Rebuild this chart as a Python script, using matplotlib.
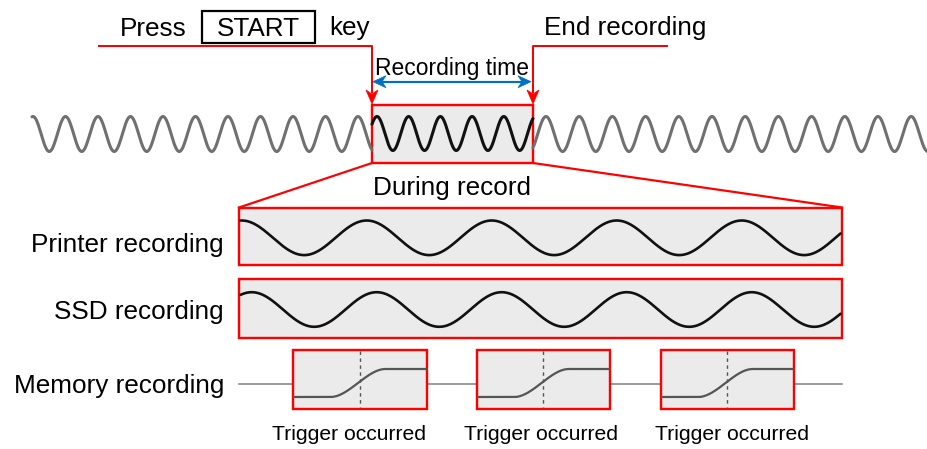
import numpy as np
import matplotlib
matplotlib.use("Agg")
import matplotlib.pyplot as plt
from matplotlib import font_manager
from matplotlib.patches import Rectangle, Polygon

# ---------------- data ----------------
top_labels = ["Press", "START", "key", "End recording"]
span_label = "Recording time"
zoom_label = "During record"
row_labels = ["Printer recording", "SSD recording", "Memory recording"]
trigger_labels = ["Trigger occurred", "Trigger occurred", "Trigger occurred"]
# illustrative waveforms: (first crest position, crest spacing) in px
top_wave_left = (33.0, 32.5)
top_wave_rec = (377.0, 31.7)
top_wave_right = (546.0, 33.2)
printer_wave = (241.7, 125.0)
ssd_wave = (251.7, 125.0)
trigger_step = (0.28, 0.69)   # rise start / end as fraction of box width

# ---------------- fonts ----------------
names = {f.name for f in font_manager.fontManager.ttflist}
REG = "Liberation Sans" if "Liberation Sans" in names else "DejaVu Sans"
NARROW = "Liberation Sans Narrow" if "Liberation Sans Narrow" in names else None

fig = plt.figure(figsize=(9.28, 4.49), dpi=100)
ax = fig.add_axes([0, 0, 1, 1])
ax.set_xlim(0, 928)
ax.set_ylim(449, 0)
ax.axis("off")

RED = "#ff0000"
BLUE = "#0070c0"
FILL = "#ebebeb"
PX = 0.72  # points per pixel


def head(tip, d, color, L=14, W=12, notch=4):
    d = np.asarray(d, float)
    d /= np.linalg.norm(d)
    n = np.array([-d[1], d[0]])
    t = np.asarray(tip, float)
    pts = [t, t - d * L + n * W / 2, t - d * (L - notch), t - d * L - n * W / 2]
    ax.add_patch(Polygon(pts, closed=True, fc=color, ec=color, lw=0.5, zorder=6))


def wave(x0, x1, cy, amp, crest, period, color, lw, z=4):
    x = np.linspace(x0, x1, 800)
    y = cy - amp * np.cos(2 * np.pi * (x - crest) / period)
    ax.plot(x, y, color=color, lw=lw, solid_capstyle="round", zorder=z)


def txt(x, y, s, ha="left", size=18.8, family=None, **kw):
    ax.text(x, y, s, ha=ha, va="baseline", fontsize=size,
            family=family or REG, color="black", **kw)

# ---------------- top annotations ----------------
txt(120, 35.5, top_labels[0])
ax.add_patch(Rectangle((202, 11), 113, 32, fill=False, ec="black", lw=1.6, zorder=5))
txt(258.5, 35.5, top_labels[1], ha="center")
txt(329, 35.5, top_labels[2])
txt(544, 35.5, top_labels[3])

# red leaders
ax.plot([99, 372, 372], [45.5, 45.5, 92], color=RED, lw=2 * PX, zorder=5)
head((372, 104), (0, 1), RED)
ax.plot([667, 533, 533], [45.5, 45.5, 92], color=RED, lw=2 * PX, zorder=5)
head((533, 104), (0, 1), RED)

# recording time span
ax.plot([380, 524], [81.7, 81.7], color=BLUE, lw=2.2 * PX, zorder=5)
head((373, 81.7), (-1, 0), BLUE, L=13, W=12)
head((531, 81.7), (1, 0), BLUE, L=13, W=12)
if NARROW:
    txt(452.5, 75.5, span_label, ha="center", size=19.5, family=NARROW)
else:
    txt(452.5, 75.5, span_label, ha="center", size=16.5)

# ---------------- top waveform ----------------
ax.add_patch(Rectangle((372, 105), 161, 58, fc=FILL, ec=RED, lw=2.4 * PX, zorder=3))
wave(32, 372, 134, 17.5, *top_wave_left, color="#707070", lw=2.2)
wave(372, 533, 133.5, 17, *top_wave_rec, color="#111111", lw=2.2, z=4)
wave(533, 928, 134, 17.5, *top_wave_right, color="#707070", lw=2.2)

# zoom lines
ax.plot([372, 239], [163, 207.5], color=RED, lw=2.2 * PX, zorder=5)
ax.plot([533, 842], [163, 207.5], color=RED, lw=2.2 * PX, zorder=5)
txt(452, 195.5, zoom_label, ha="center")

# ---------------- printer / SSD rows ----------------
for (y0, y1), (crest, period), cy, lab, by in [
        ((207.5, 265), printer_wave, 237.8, row_labels[0], 252),
        ((279, 337.5), ssd_wave, 309.5, row_labels[1], 319.5)]:
    ax.add_patch(Rectangle((239, y0), 603, y1 - y0, fc=FILL, ec=RED,
                           lw=2.4 * PX, zorder=3))
    wave(240.5, 840.5, cy, 17.3, crest, period, color="#111111", lw=1.9)
    txt(224, by, lab, ha="right")

# ---------------- memory row ----------------
txt(224, 393, row_labels[2], ha="right")
ax.plot([239, 842], [384, 384], color="#808080", lw=1.1, zorder=2)
box_x = [(293, 427), (477, 610), (661, 794)]
label_cx = [349, 541.5, 732]
for (bx0, bx1), lab, lcx in zip(box_x, trigger_labels, label_cx):
    ax.add_patch(Rectangle((bx0, 349.5), bx1 - bx0, 59, fc=FILL, ec=RED,
                           lw=2.4 * PX, zorder=3))
    w = bx1 - bx0
    xs = np.linspace(bx0 + 1, bx1 - 1, 400)
    f = np.clip(((xs - bx0) / w - trigger_step[0]) / (trigger_step[1] - trigger_step[0]), 0, 1)
    s = f * f * (3 - 2 * f)
    ax.plot(xs, 397 - 28 * s, color="#555555", lw=1.6, zorder=4)
    cx = (bx0 + bx1) / 2
    ax.plot([cx, cx], [351, 407], color="#555555", lw=1.0, ls=(0, (2.5, 2.5)), zorder=4)
    if NARROW:
        txt(lcx, 440.5, lab, ha="center", size=18.5, family=NARROW)
    else:
        txt(lcx, 440.5, lab, ha="center", size=15.2)

fig.savefig("out.png", dpi=100)
